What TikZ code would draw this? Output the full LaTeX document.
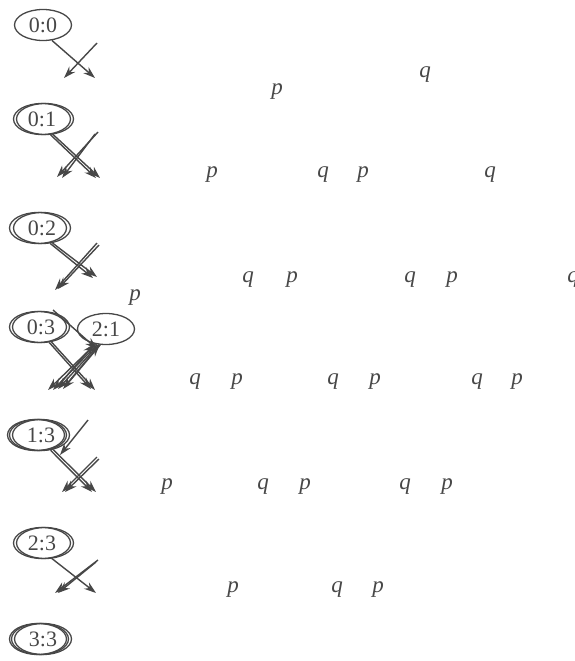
\documentclass[tikz,border=0pt]{standalone}
\usepackage{fontspec}
\setmainfont{Liberation Serif}
\usetikzlibrary{shapes.geometric,arrows.meta}
\definecolor{ink}{HTML}{474747}
\begin{document}
\begin{tikzpicture}[x=1pt,y=-1pt,
  state/.style={ellipse,draw=ink,line width=1.3pt,minimum width=57pt,minimum height=31pt,
    inner sep=0pt,text=ink,font=\fontsize{22}{26}\selectfont},
  ring/.style={ellipse,draw=ink,line width=1.3pt,minimum width=57pt,minimum height=31pt,inner sep=0pt},
  arr/.style={draw=ink,line width=1.4pt,-{Stealth[length=12pt,width=8pt]}},
  lab/.style={text=ink,font=\fontsize{23}{26}\selectfont\itshape,inner sep=0pt}]
\useasboundingbox (0,0) rectangle (575,661);

% states
\node[state] (s00) at (43,25) {0:0};
\node[ring] (s01b) at (45,119) {};
\node[state] (s01) at (42,119) {0:1};
\node[ring] (s02b) at (38,228) {};
\node[state] (s02) at (42,228) {0:2};
\node[ring] (s03b) at (38,327) {};
\node[state] (s03) at (41,327) {0:3};
\node[state] (s21) at (106,329) {2:1};
\node[ring] (s13c) at (36,435) {};
\node[ring] (s13b) at (38,435) {};
\node[state] (s13) at (41,435) {1:3};
\node[ring] (s23b) at (45,543) {};
\node[state] (s23) at (42,543) {2:3};
\node[ring] (s33c) at (38,639) {};
\node[ring] (s33b) at (40,639) {};
\node[state] (s33) at (43,639) {3:3};

% arrow end points
\coordinate (a1) at (95,78);   \coordinate (a2) at (64,78);
\coordinate (a2s) at (97,43);
\coordinate (b1) at (100,178); \coordinate (b1x) at (96,178);
\coordinate (b2) at (57,177);  \coordinate (b2x) at (62,178);
\coordinate (b2s) at (98,132); \coordinate (b2sx) at (95,134);
\coordinate (c1) at (93,278);  \coordinate (c1x) at (97,277);
\coordinate (c2) at (55,290);  \coordinate (c2x) at (58,289);
\coordinate (c2s) at (97,243); \coordinate (c2sx) at (99,245);
\coordinate (d1) at (95,390);  \coordinate (d1x) at (91,389);
\coordinate (d2a) at (48,390); \coordinate (d2b) at (53,390);
\coordinate (d2c) at (58,389); \coordinate (d2d) at (63,389);
\coordinate (d3a) at (58,386); \coordinate (d3b) at (65,386);
\coordinate (d4s) at (53,310); \coordinate (d4) at (97,349);
\coordinate (e0s) at (88,420); \coordinate (e0) at (60,455);
\coordinate (e1) at (92,492);  \coordinate (e1x) at (96,492);
\coordinate (e2s) at (97,457); \coordinate (e2sx) at (99,459);
\coordinate (e2) at (62,492);  \coordinate (e2x) at (65,492);
\coordinate (f1) at (96,593);
\coordinate (f2s) at (98,560); \coordinate (f2sx) at (96,562);
\coordinate (f2) at (55,593);  \coordinate (f2x) at (58,593);

% transitions
\draw[arr] (s00.-60) -- (a1);
\draw[arr] (a2s) -- (a2);

\draw[arr] (s01.-55) -- (b1);
\draw[arr] (s01.-62) -- (b1x);
\draw[arr] (b2s) -- (b2);
\draw[arr] (b2sx) -- (b2x);

\draw[arr] (s02.-62) -- (c1);
\draw[arr] (s02.-55) -- (c1x);
\draw[arr] (c2s) -- (c2);
\draw[arr] (c2sx) -- (c2x);

\draw[arr] (s03.-55) -- (d1);
\draw[arr] (s03.-62) -- (d1x);
\draw[arr] (s21.-125) -- (d2a);
\draw[arr] (s21.-120) -- (d2b);
\draw[arr] (s21.-115) -- (d2c);
\draw[arr] (s21.-110) -- (d2d);
\draw[arr] (d3a) -- (s21.-128);
\draw[arr] (d3b) -- (s21.-112);
\draw[arr] (d4s) -- (d4);

\draw[arr] (e0s) -- (e0);
\draw[arr] (s13.-58) -- (e1);
\draw[arr] (s13.-50) -- (e1x);
\draw[arr] (e2s) -- (e2);
\draw[arr] (e2sx) -- (e2x);

\draw[arr] (s23.-58) -- (f1);
\draw[arr] (f2s) -- (f2);
\draw[arr] (f2sx) -- (f2x);

% scattered labels
\node[lab] (l1) at (425,75) {q};
\node[lab] (l2) at (277,92) {p};
\node[lab] (l3) at (212,175) {p};
\node[lab] (l4) at (323,175) {q};
\node[lab] (l5) at (363,175) {p};
\node[lab] (l6) at (490,175) {q};
\node[lab] (l7) at (248,280) {q};
\node[lab] (l8) at (292,280) {p};
\node[lab] (l9) at (410,280) {q};
\node[lab] (l10) at (452,280) {p};
\node[lab] (l11) at (573,280) {q};
\node[lab] (l12) at (135,298) {p};
\node[lab] (l13) at (195,382) {q};
\node[lab] (l14) at (237,382) {p};
\node[lab] (l15) at (333,382) {q};
\node[lab] (l16) at (375,382) {p};
\node[lab] (l17) at (477,382) {q};
\node[lab] (l18) at (517,382) {p};
\node[lab] (l19) at (167,487) {p};
\node[lab] (l20) at (263,487) {q};
\node[lab] (l21) at (305,487) {p};
\node[lab] (l22) at (405,487) {q};
\node[lab] (l23) at (447,487) {p};
\node[lab] (l24) at (233,590) {p};
\node[lab] (l25) at (337,590) {q};
\node[lab] (l26) at (378,590) {p};
\end{tikzpicture}
\end{document}
